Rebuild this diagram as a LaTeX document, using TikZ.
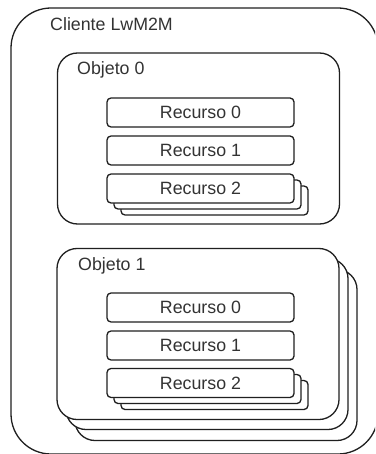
\documentclass[tikz,border=0pt]{standalone}
\usepackage{fontspec}
\setmainfont{Liberation Sans}
\tikzset{
  box/.style={draw=black!88, line width=1.3pt, fill=white, inner sep=0pt, outer sep=0pt},
  clientbox/.style={box, rounded corners=40pt},
  objbox/.style={box, rounded corners=20pt, minimum width=282pt, minimum height=171pt},
  resbox/.style={box, rounded corners=4pt, minimum width=187pt, minimum height=29pt,
    text=black!80, font=\fontsize{17.8}{20}\selectfont},
  lbl/.style={inner sep=0pt, anchor=base west, text=black!80, font=\fontsize{17.8}{20}\selectfont}
}
\begin{document}
\begin{tikzpicture}[x=1pt, y=-1pt]
  \path[use as bounding box] (0,0) rectangle (375,454);
  \clip (0,0) rectangle (375,454);

  % LwM2M client container
  \node[clientbox, minimum width=367pt, minimum height=446pt] (client) at (194.5,231) {};
  \node[lbl] (clientlbl) at (50,31) {Cliente LwM2M};

  % Object 0 with three resources, the last one multi-instance
  \node[objbox] (obj0) at (198.5,138.5) {};
  \node[lbl] (obj0lbl) at (77,75) {Objeto 0};
  \node[resbox] (o0r0) at (200.5,112.5) {Recurso 0};
  \node[resbox] (o0r1) at (200.5,150.5) {Recurso 1};
  \node[resbox] (o0r2c) at (214.5,200.5) {};
  \node[resbox] (o0r2b) at (207.5,194.5) {};
  \node[resbox] (o0r2) at (200.5,188.5) {Recurso 2};

  % Object 1, multi-instance, same resources
  \node[objbox] (obj1c) at (216,355) {};
  \node[objbox] (obj1b) at (207,344) {};
  \node[objbox] (obj1) at (198,334) {};
  \node[lbl] (obj1lbl) at (78,270) {Objeto 1};
  \node[resbox] (o1r0) at (200.5,307.5) {Recurso 0};
  \node[resbox] (o1r1) at (200.5,345.5) {Recurso 1};
  \node[resbox] (o1r2c) at (214.5,395) {};
  \node[resbox] (o1r2b) at (207.5,389) {};
  \node[resbox] (o1r2) at (200.5,383) {Recurso 2};
\end{tikzpicture}
\end{document}
